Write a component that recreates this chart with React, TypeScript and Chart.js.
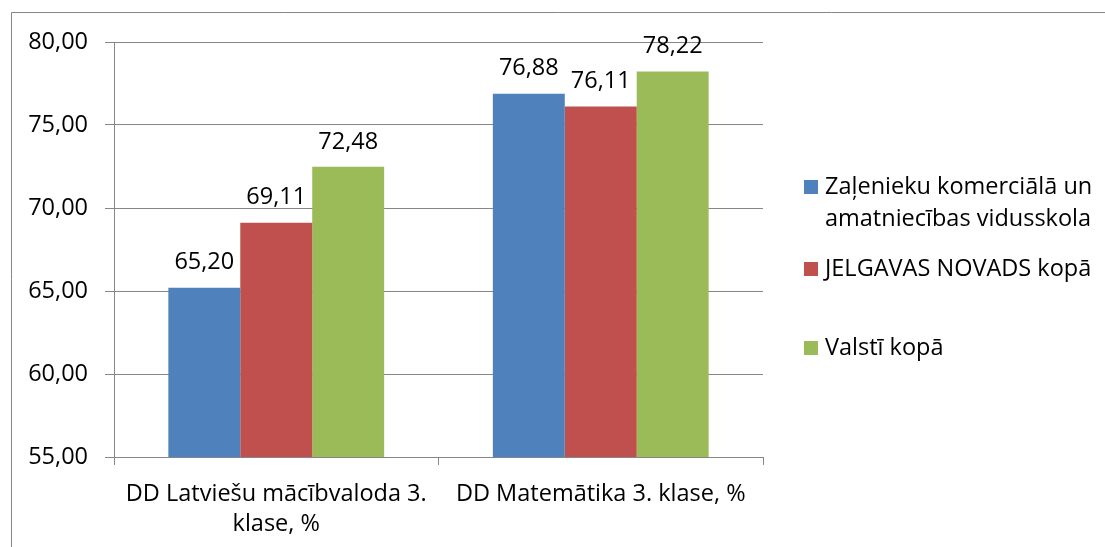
import React, { useEffect, useRef } from "react";
import { Chart, registerables } from "chart.js";

Chart.register(...registerables);

const categories: (string | string[])[] = [
  ["DD Latviešu mācībvaloda 3.", "klase, %"],
  "DD Matemātika 3. klase, %",
];
const seriesNames = [
  ["Zaļenieku komerciālā un", "amatniecības vidusskola"],
  ["JELGAVAS NOVADS kopā"],
  ["Valstī kopā"],
];
const schoolValues = [65.2, 76.88];
const novadsValues = [69.11, 76.11];
const valstiValues = [72.48, 78.22];
const seriesColors = ["#4F81BD", "#C0504D", "#9BBB59"];
const yMin = 55;
const yMax = 80;
const yStep = 5;

const FONT = "'Open Sans', sans-serif";
const FONT_SIZE = 23.5;
const GRAY = "#868686";

const fmt = (v: number) => v.toFixed(2).replace(".", ",");

const decorPlugin = {
  id: "decor",
  afterDraw(chart: any) {
    const ctx = chart.ctx as CanvasRenderingContext2D;
    const area = chart.chartArea;
    ctx.save();
    // outer border
    ctx.strokeStyle = GRAY;
    ctx.lineWidth = 1;
    ctx.beginPath();
    ctx.moveTo(11.5, chart.height);
    ctx.lineTo(11.5, 12.5);
    ctx.lineTo(chart.width, 12.5);
    ctx.stroke();

    // data labels
    ctx.fillStyle = "#000";
    ctx.font = `${FONT_SIZE}px ${FONT}`;
    ctx.textAlign = "center";
    ctx.textBaseline = "middle";
    chart.data.datasets.forEach((ds: any, i: number) => {
      const meta = chart.getDatasetMeta(i);
      meta.data.forEach((el: any, j: number) => {
        ctx.fillText(fmt(ds.data[j]), el.x, el.y - 25);
      });
    });

    // legend
    const lx = area.right + 41;
    const ys = [187, 269, 348];
    ctx.textAlign = "left";
    seriesNames.forEach((lines, i) => {
      const y = ys[i];
      ctx.fillStyle = seriesColors[i];
      ctx.fillRect(lx, y - 7, 14, 14);
      ctx.fillStyle = "#000";
      lines.forEach((t, k) => {
        ctx.fillText(t, lx + 21, y + k * 32);
      });
    });
    ctx.restore();
  },
};

export default function App() {
  const ref = useRef<HTMLCanvasElement | null>(null);
  useEffect(() => {
    document.body.style.margin = "0";
    const chart = new Chart(ref.current as HTMLCanvasElement, {
      type: "bar",
      data: {
        labels: categories,
        datasets: [
          { label: seriesNames[0].join(" "), data: schoolValues, backgroundColor: seriesColors[0] },
          { label: seriesNames[1].join(" "), data: novadsValues, backgroundColor: seriesColors[1] },
          { label: seriesNames[2].join(" "), data: valstiValues, backgroundColor: seriesColors[2] },
        ],
      },
      options: {
        animation: false,
        responsive: false,
        events: [],
        layout: { padding: { left: 11, right: 342, top: 42, bottom: 0 } },
        plugins: { legend: { display: false }, tooltip: { enabled: false } },
        datasets: { bar: { categoryPercentage: 0.665, barPercentage: 1 } },
        scales: {
          x: {
            grid: {
              offset: true,
              drawOnChartArea: false,
              drawTicks: true,
              tickLength: 8,
              color: GRAY,
            },
            border: { display: true, color: GRAY },
            ticks: {
              color: "#000",
              font: { family: FONT, size: FONT_SIZE, lineHeight: "30px" as any },
              padding: 14,
              maxRotation: 0,
              autoSkip: false,
            },
            afterFit: (s: any) => {
              s.height = 90;
            },
          },
          y: {
            min: yMin,
            max: yMax,
            grid: { color: GRAY, tickLength: 9, drawTicks: true },
            border: { display: true, color: GRAY },
            ticks: {
              stepSize: yStep,
              color: "#000",
              font: { family: FONT, size: FONT_SIZE },
              padding: 17,
              callback: (v: any) => fmt(Number(v)),
            },
            afterFit: (s: any) => {
              s.width = 103;
            },
          },
        },
      },
      plugins: [decorPlugin],
    });
    return () => chart.destroy();
  }, []);
  return (
    <div style={{ position: "absolute", left: 0, top: 0, width: 1105, height: 547 }}>
      <canvas ref={ref} width={1105} height={547} style={{ width: 1105, height: 547 }} />
    </div>
  );
}
